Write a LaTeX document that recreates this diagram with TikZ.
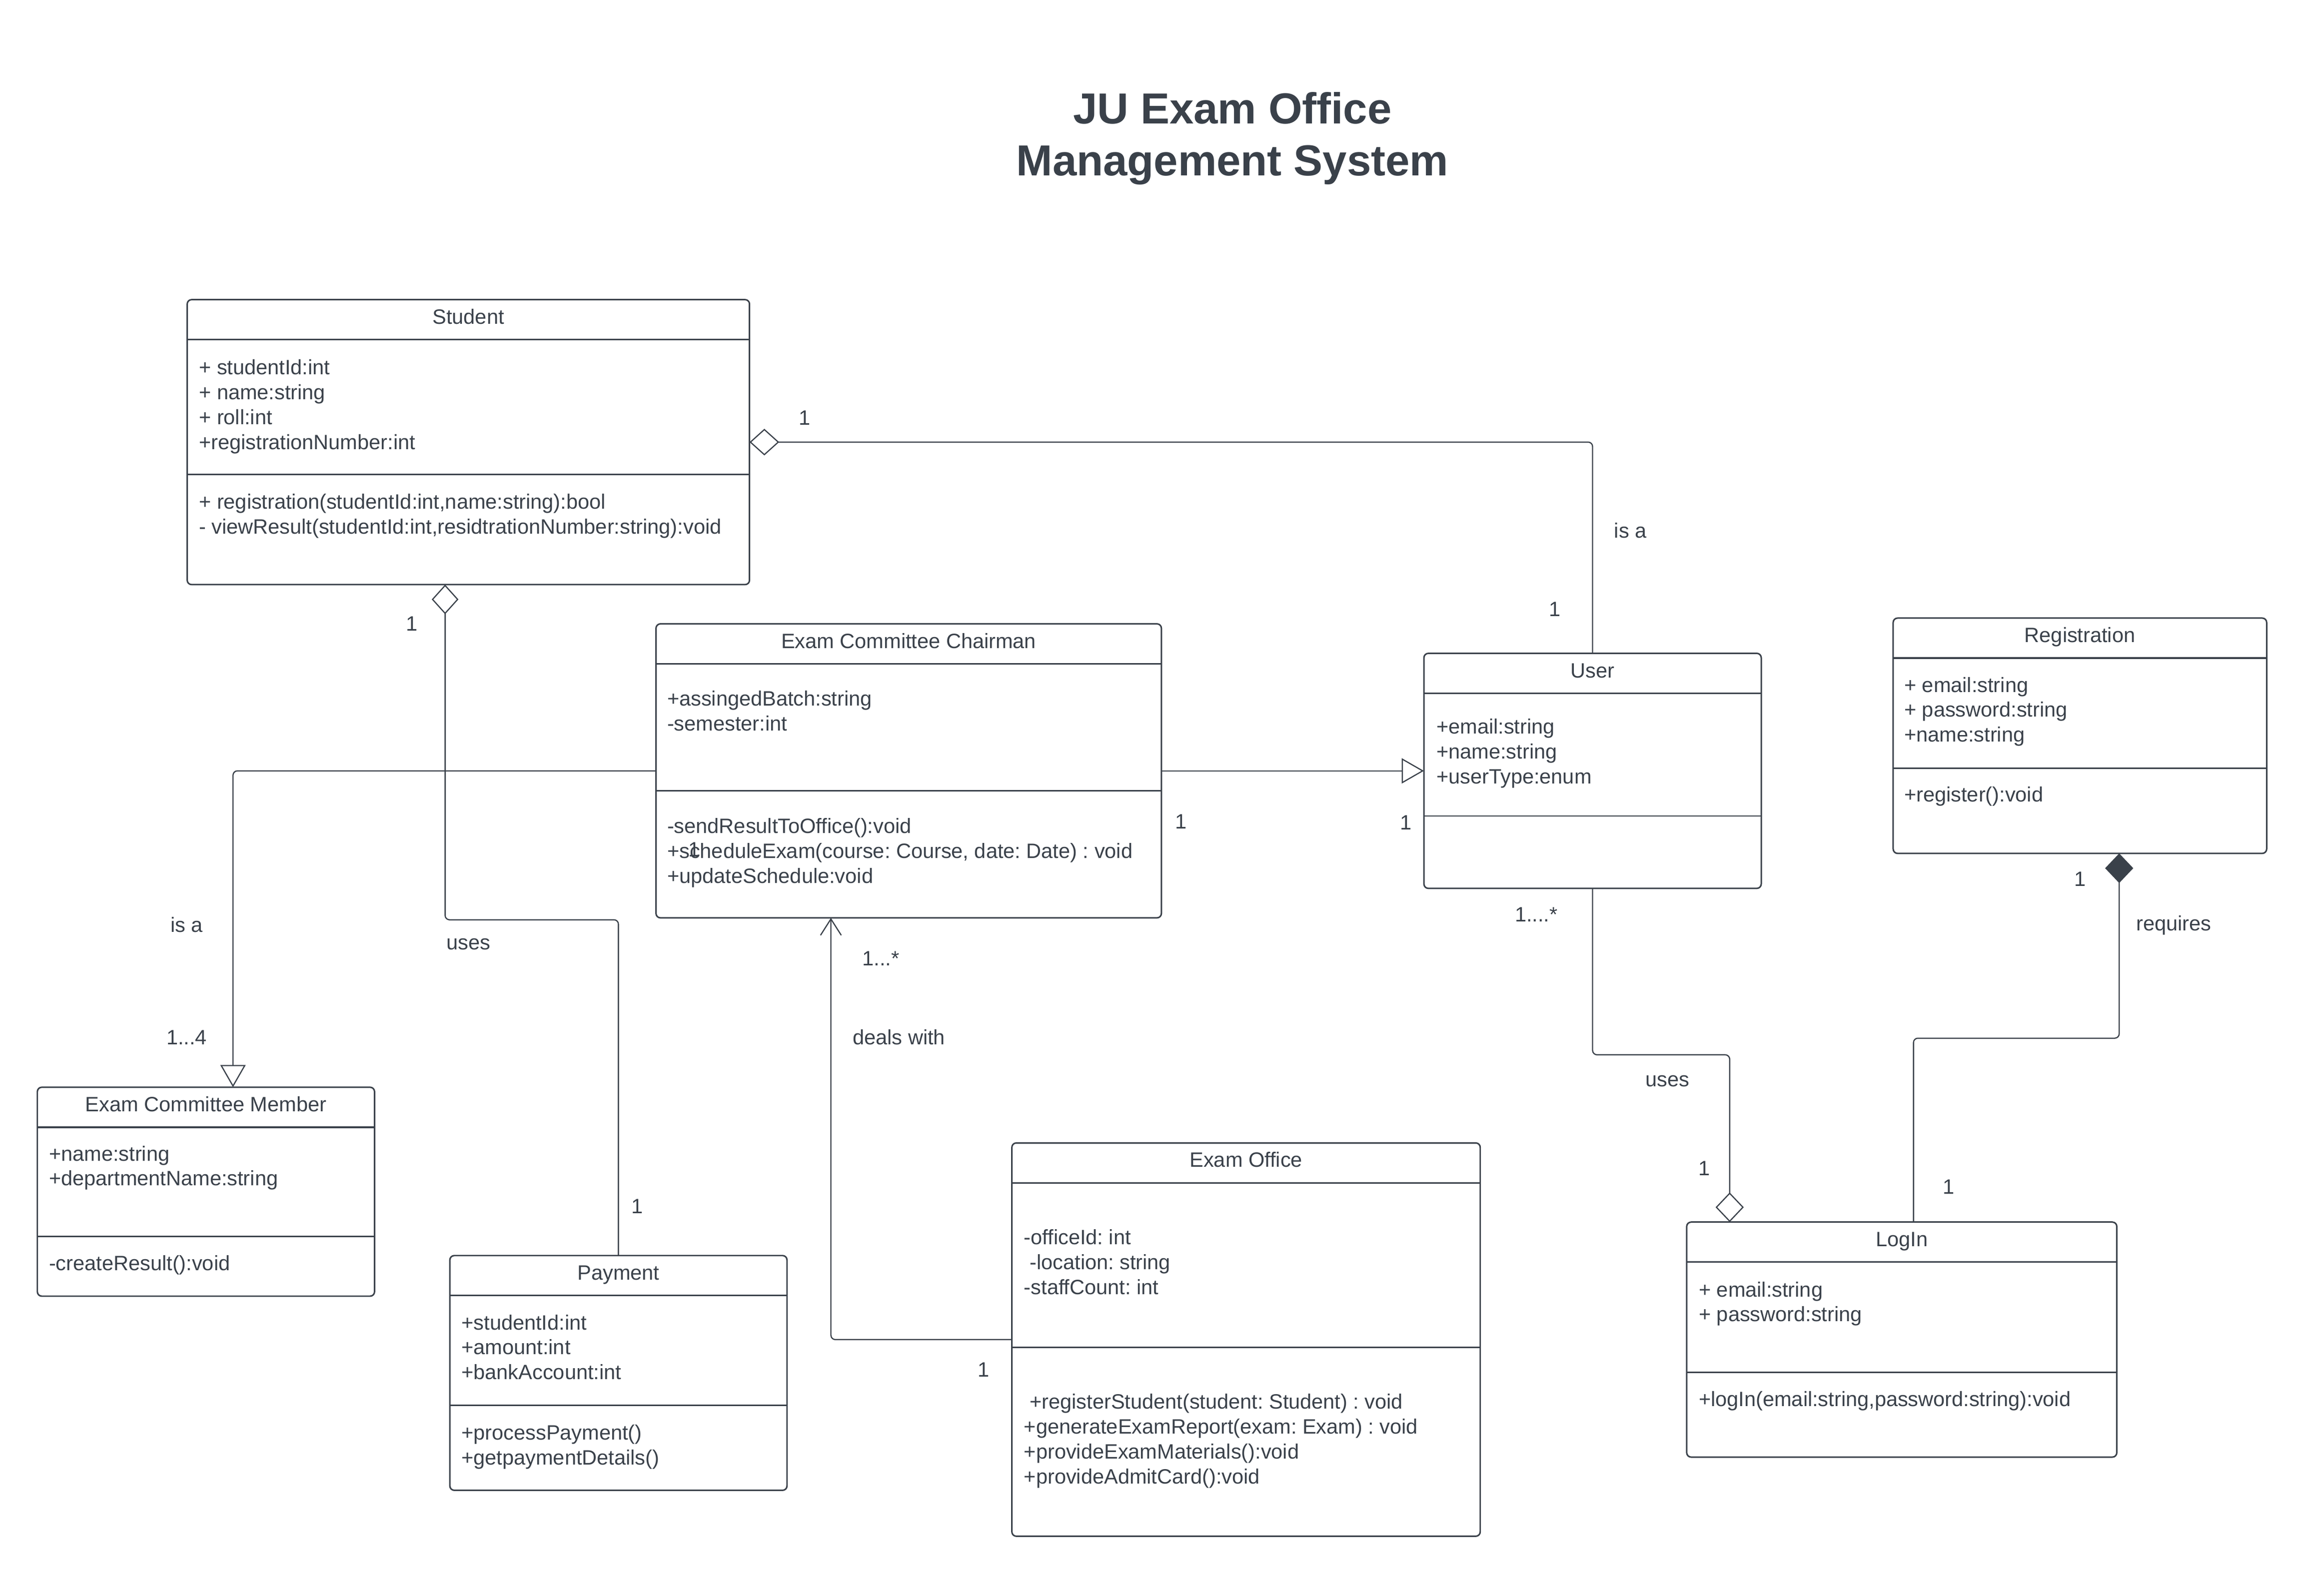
\documentclass[tikz,border=0pt]{standalone}
\usepackage{fontspec}
\setmainfont{Liberation Sans}
\usetikzlibrary{arrows.meta,calc,positioning}
\definecolor{ink}{HTML}{3A414A}
\frenchspacing
\tikzset{
    class/.style = {
        draw = ink,
        line width = 1pt,
        rounded corners = 3pt,
        anchor = north west,
        inner sep = 0pt,
        outer sep = 0pt,
        },
    class name/.style = {
        anchor = base,
        text = ink,
        inner sep = 0pt,
        font = \fontsize{14}{16.8}\selectfont,
        },
    members/.style = {
        anchor = north west,
        align = left,
        inner sep = 0pt,
        text = ink,
        font = \fontsize{14}{16.8}\selectfont,
        },
    header/.style = {
        draw = ink,
        line width = 1.1pt,
        },
    divider/.style = {
        draw = ink,
        line width = 1pt,
        },
    link/.style = {
        draw = ink,
        line width = 0.8pt,
        rounded corners = 3pt,
        },
    mult/.style = {
        text = ink,
        inner sep = 0pt,
        font = \fontsize{14}{16.8}\selectfont,
        },
    heading/.style = {
        anchor = north,
        align = center,
        inner sep = 0pt,
        text = ink,
        font = \fontsize{29.3}{35}\selectfont\bfseries,
        },
}

\begin{document}
\begin{tikzpicture}[x=1pt, y=-1pt]
            \useasboundingbox (0,0) rectangle (1568,1062);

            \node[heading] (title) at (831.5,62) {JU Exam Office\\Management System};

            \node[class, minimum width=379.4pt, minimum height=192.3pt] (student) at (126.3,202.2) {};
            \node[class name] at ([yshift=-16.4pt]student.north) {Student};
            \draw[header] ([yshift=-27pt]student.north west) -- ([yshift=-27pt]student.north east);
            \draw[divider] ([yshift=-118pt]student.north west) -- ([yshift=-118pt]student.north east);
            \node[members] (student attrs) at (134.1,242.5) {+ studentId:int\\+ name:string\\+ roll:int\\+registrationNumber:int};
            \node[members] (student ops) at (134.1,333) {+ registration(studentId:int,name:string):bool\\- viewResult(studentId:int,residtrationNumber:string):void};

            \node[class, minimum width=341pt, minimum height=198.4pt] (chairman) at (442.6,421) {};
            \node[class name] at ([yshift=-16.4pt]chairman.north) {Exam Committee Chairman};
            \draw[header] ([yshift=-27pt]chairman.north west) -- ([yshift=-27pt]chairman.north east);
            \draw[divider] ([yshift=-112.6pt]chairman.north west) -- ([yshift=-112.6pt]chairman.north east);
            \node[members] (chairman attrs) at (450,465.9) {+assingedBatch:string\\-semester:int};
            \node[members] (chairman ops) at (450,551.9) {-sendResultToOffice():void\\+scheduleExam(course: Course, date: Date) : void\\+updateSchedule:void};

            \node[class, minimum width=227.6pt, minimum height=158.6pt] (user) at (960.7,440.9) {};
            \node[class name] at ([yshift=-16.4pt]user.north) {User};
            \draw[header] ([yshift=-27pt]user.north west) -- ([yshift=-27pt]user.north east);
            \draw[divider, line width=0.7pt] ([yshift=-109.7pt]user.north west) -- ([yshift=-109.7pt]user.north east);
            \node[members] (user attrs) at (969,484.8) {+email:string\\+name:string\\+userType:enum};

            \node[class, minimum width=252pt, minimum height=158.8pt] (registration) at (1277.3,417.1) {};
            \node[class name] at ([yshift=-16.4pt]registration.north) {Registration};
            \draw[header] ([yshift=-27pt]registration.north west) -- ([yshift=-27pt]registration.north east);
            \draw[divider] ([yshift=-101.3pt]registration.north west) -- ([yshift=-101.3pt]registration.north east);
            \node[members] (registration attrs) at (1284.6,456.7) {+ email:string\\+ password:string\\+name:string};
            \node[members] (registration ops) at (1284.6,530.7) {+register():void};

            \node[class, minimum width=227.5pt, minimum height=141pt] (member) at (25.2,733.7) {};
            \node[class name] at ([yshift=-16.4pt]member.north) {Exam Committee Member};
            \draw[header] ([yshift=-27pt]member.north west) -- ([yshift=-27pt]member.north east);
            \draw[divider] ([yshift=-100.7pt]member.north west) -- ([yshift=-100.7pt]member.north east);
            \node[members] (member attrs) at (32.9,773) {+name:string\\+departmentName:string};
            \node[members] (member ops) at (32.9,847.1) {-createResult():void};

            \node[class, minimum width=227.5pt, minimum height=158.4pt] (payment) at (303.5,847.3) {};
            \node[class name] at ([yshift=-16.4pt]payment.north) {Payment};
            \draw[header] ([yshift=-27pt]payment.north west) -- ([yshift=-27pt]payment.north east);
            \draw[divider] ([yshift=-101.1pt]payment.north west) -- ([yshift=-101.1pt]payment.north east);
            \node[members] (payment attrs) at (311.2,887) {+studentId:int\\+amount:int\\+bankAccount:int};
            \node[members] (payment ops) at (311.2,961.4) {+processPayment()\\+getpaymentDetails()};

            \node[class, minimum width=316pt, minimum height=265.4pt] (office) at (682.7,771.3) {};
            \node[class name] at ([yshift=-16.4pt]office.north) {Exam Office};
            \draw[header] ([yshift=-27pt]office.north west) -- ([yshift=-27pt]office.north east);
            \draw[divider] ([yshift=-138pt]office.north west) -- ([yshift=-138pt]office.north east);
            \node[members] (office attrs) at (690.7,829.6) {-officeId: int\\\hspace*{3.9pt}-location: string\\-staffCount: int};
            \node[members] (office ops) at (690.7,940.5) {\hspace*{3.9pt}+registerStudent(student: Student) : void\\+generateExamReport(exam: Exam) : void\\+provideExamMaterials():void\\+provideAdmitCard():void};

            \node[class, minimum width=290.2pt, minimum height=158.6pt] (login) at (1138,824.7) {};
            \node[class name] at ([yshift=-16.4pt]login.north) {LogIn};
            \draw[header] ([yshift=-27pt]login.north west) -- ([yshift=-27pt]login.north east);
            \draw[divider] ([yshift=-101.3pt]login.north west) -- ([yshift=-101.3pt]login.north east);
            \node[members] (login attrs) at (1146,864.7) {+ email:string\\+ password:string};
            \node[members] (login ops) at (1146,938.7) {+logIn(email:string,password:string):void};

            \coordinate (student pay) at ([xshift=174pt]student.south west);
            \coordinate (member top) at ([xshift=132pt]member.north west);
            \coordinate (chairman low) at ([xshift=118pt]chairman.south west);
            \coordinate (login top) at ([xshift=29pt]login.north west);
            \coordinate (login req) at ([xshift=153pt]login.north west);
            \coordinate (registration low) at ([xshift=152.5pt]registration.south west);

            \draw[link, {Diamond[open, fill=white, length=20pt, width=18pt]}-] (student.east) -| (user.north);
            \draw[link, {Diamond[open, fill=white, length=20pt, width=18pt]}-] (student pay) -- ++(0,226.2) -| (payment.north);
            \draw[link, -{Triangle[open, fill=white, length=15pt, width=17pt]}] (chairman.west) -| (member top);
            \draw[link, -{Triangle[open, fill=white, length=15pt, width=17pt]}] (chairman.east) -- (user.west);
            \draw[link, -{Straight Barb[length=11pt, width=14pt]}] (office.west) -| (chairman low);
            \draw[link, -{Diamond[open, fill=white, length=20pt, width=19pt]}] (user.south) -- ++(0,112.3) -| (login top);
            \draw[link, -{Diamond[fill=ink, length=20pt, width=19pt]}] (login req) -- ++(0,-124.1) -| (registration low);

            \node[mult] at (543,282) {1};
            \node[mult] at (1100,358) {is a};
            \node[mult] at (1049,411) {1};
            \node[mult] at (278,421) {1};
            \node[mult] at (316,637) {uses};
            \node[mult] at (430,814) {1};
            \node[mult] at (126,624) {is a};
            \node[mult] at (126,700) {1...4};
            \node[mult] at (796.7,554.4) {1};
            \node[mult] at (948.4,555) {1};
            \node[mult] at (468.5,573.3) {1};
            \node[mult] at (594.3,646.8) {1...*};
            \node[mult] at (606.5,699.8) {deals with};
            \node[mult] at (663.5,924.3) {1};
            \node[mult] at (1036.5,617) {1....*};
            \node[mult] at (1125,729.7) {uses};
            \node[mult] at (1150,788.4) {1};
            \node[mult] at (1403.4,593.3) {1};
            \node[mult] at (1466.6,624.3) {requires};
            \node[mult] at (1314.7,801) {1};
        \end{tikzpicture}
\end{document}
